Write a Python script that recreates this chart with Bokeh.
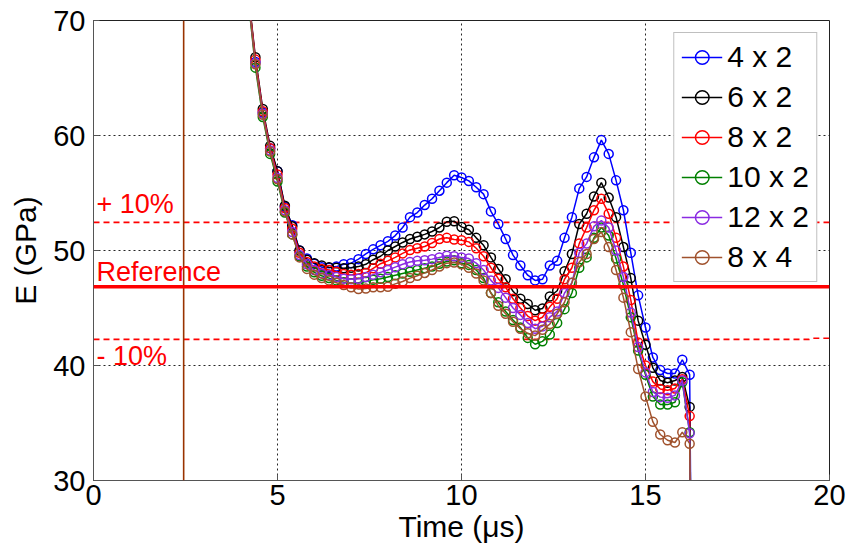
from bokeh.plotting import figure
from bokeh.models import Legend, LegendItem, Label, Span, FixedTicker
from bokeh.embed import file_html
from bokeh.resources import INLINE

# ---------------- data ----------------
time_us = [4.2,
           4.4, 4.6, 4.8, 5.0, 5.2, 5.4, 5.6, 5.8, 6.0, 6.2,
           6.4, 6.6, 6.8, 7.0, 7.2, 7.4, 7.6, 7.8, 8.0, 8.2,
           8.4, 8.6, 8.8, 9.0, 9.2, 9.4, 9.6, 9.8, 10.0, 10.2,
           10.4, 10.6, 10.8, 11.0, 11.2, 11.4, 11.6, 11.8, 12.0, 12.2,
           12.4, 12.6, 12.8, 13.0, 13.2, 13.4, 13.6, 13.8, 14.0, 14.2,
           14.4, 14.6, 14.8, 15.0, 15.2, 15.4, 15.6, 15.8, 16.0, 16.2,
           16.25]

E_4x2 = [72.5,
         66.4, 62.0, 58.9, 56.9, 53.8, 52.2, 50.0, 49.3, 48.85, 48.55,
         48.5, 48.6, 48.8, 48.9, 49.25, 49.7, 50.1, 50.45, 50.8, 51.3,
         52.0, 52.9, 53.3, 53.95, 54.5, 55.2, 55.9, 56.55, 56.35, 56.05,
         55.5, 54.9, 53.4, 52.3, 51.0, 49.6, 48.7, 47.85, 47.4, 47.5,
         48.7, 49.1, 51.1, 52.9, 55.4, 56.4, 58.1, 59.6, 58.4, 56.1,
         53.5, 49.8, 46.1, 43.3, 40.7, 39.6, 39.3, 39.3, 40.5, 39.2,
         20.0]

E_6x2 = [72.5,
         66.8, 62.3, 59.1, 56.9, 53.9, 52.1, 50.0, 49.2, 48.9, 48.7,
         48.55, 48.5, 48.45, 48.5, 48.6, 48.8, 49.2, 49.5, 50.0, 50.35,
         50.7, 51.0, 51.2, 51.4, 51.65, 52.0, 52.5, 52.55, 52.05, 51.8,
         51.1, 50.45, 49.4, 48.4, 47.5, 46.45, 45.8, 45.35, 44.8, 44.95,
         46.0, 46.5, 48.2, 49.7, 52.3, 53.2, 54.7, 55.9, 54.6, 52.9,
         50.3, 47.6, 43.9, 41.8, 39.8, 38.7, 38.5, 38.7, 39.0, 36.4,
         20.0]

E_8x2 = [72.5,
         66.6, 62.1, 58.9, 56.6, 53.7, 51.9, 49.8, 49.0, 48.6, 48.4,
         48.3, 48.15, 47.95, 47.9, 47.95, 48.05, 48.45, 48.85, 49.1, 49.4,
         49.75, 50.05, 50.2, 50.35, 50.65, 51.0, 51.1, 50.95, 50.9, 50.75,
         50.2, 49.5, 48.5, 47.55, 46.8, 45.8, 45.0, 44.3, 43.9, 44.2,
         45.1, 45.8, 47.5, 48.5, 50.6, 52.0, 53.5, 54.5, 53.2, 51.1,
         48.6, 45.7, 42.0, 40.0, 38.6, 37.95, 37.85, 38.0, 38.8, 35.6,
         20.0]

E_10x2 = [72.0,
          65.9, 61.6, 58.4, 56.0, 53.3, 51.4, 49.5, 48.6, 48.1, 47.8,
          47.6, 47.4, 47.25, 47.15, 47.2, 47.3, 47.45, 47.55, 47.7, 47.85,
          48.0, 48.15, 48.3, 48.45, 48.6, 48.85, 49.05, 49.15, 48.9, 48.75,
          48.3, 47.6, 46.3, 45.5, 44.7, 43.95, 43.3, 42.4, 41.85, 42.1,
          42.7, 43.7, 44.9, 46.3, 48.5, 49.4, 51.1, 52.0, 51.3, 49.3,
          47.0, 44.2, 41.3, 39.2, 37.3, 36.6, 36.6, 36.8, 38.55, 34.2,
          20.0]

E_12x2 = [72.2,
          66.3, 61.9, 58.7, 56.3, 53.5, 51.6, 49.6, 48.8, 48.3, 48.0,
          47.85, 47.7, 47.55, 47.5, 47.55, 47.7, 47.9, 48.1, 48.3, 48.55,
          48.8, 49.0, 49.1, 49.15, 49.25, 49.4, 49.55, 49.5, 49.4, 49.3,
          48.9, 48.3, 47.4, 46.75, 45.9, 45.0, 44.4, 43.7, 43.2, 43.4,
          44.2, 44.7, 46.3, 47.2, 49.8, 50.6, 52.1, 52.6, 52.0, 50.0,
          47.7, 44.6, 41.6, 39.4, 37.7, 37.25, 37.2, 37.4, 38.7, 34.1,
          20.0]

E_8x4 = [72.2,
         66.2, 61.8, 58.6, 56.2, 53.4, 51.4, 49.4, 48.4, 47.9, 47.6,
         47.4, 47.2, 47.0, 46.8, 46.65, 46.7, 46.8, 46.8, 46.85, 47.1,
         47.3, 47.6, 47.8, 48.05, 48.3, 48.6, 48.9, 48.95, 48.8, 48.5,
         48.0, 47.4, 46.3, 45.2, 44.5, 43.8, 43.2, 42.8, 42.6, 43.1,
         43.6, 44.5, 45.5, 47.2, 49.0, 49.7, 51.0, 51.6, 50.3, 48.3,
         45.9, 42.9, 39.7, 37.3, 35.1, 34.0, 33.5, 33.3, 34.2, 33.2,
         20.0]

series_labels = ["4 x 2", "6 x 2", "8 x 2", "10 x 2", "12 x 2", "8 x 4"]
series_values = [E_4x2, E_6x2, E_8x2, E_10x2, E_12x2, E_8x4]
series_colors = ["#0000FF", "#000000", "#FF0000", "#008000", "#8A2BE2", "#A0522D"]

reference_E = 46.85
upper_t = [0, 20]
upper_E = [52.45, 52.45]
lower_t = [0, 19.45, 19.55, 20]
lower_E = [42.27, 42.27, 42.37, 42.37]
marker_time = 2.45

annotation_texts = ["+ 10%", "Reference", "- 10%"]
annotation_E = [54.05, 48.15, 40.85]

x_ticks = [0, 5, 10, 15, 20]
y_ticks = [30, 40, 50, 60, 70]

FONT = "Liberation Sans"

# ---------------- figure ----------------
p = figure(width=851, height=559, x_range=(0, 20), y_range=(30, 70),
           output_backend="svg", toolbar_location=None,
           min_border_left=93, min_border_right=22,
           min_border_top=20, min_border_bottom=79)
p.background_fill_color = "white"
p.border_fill_color = "white"
p.outline_line_color = "#222222"
p.outline_line_width = 1

for ax in (p.xaxis[0], p.yaxis[0]):
    ax.major_label_text_font = FONT
    ax.major_label_text_font_size = "29px"
    ax.major_label_text_color = "black"
    ax.axis_label_text_font = FONT
    ax.axis_label_text_font_size = "30px"
    ax.axis_label_text_font_style = "normal"
    ax.axis_label_text_color = "black"
    ax.axis_line_color = "#555555"
    ax.major_tick_in = 6
    ax.major_tick_out = 0
    ax.minor_tick_line_color = None
    ax.major_tick_line_color = "#555555"

p.xaxis.ticker = FixedTicker(ticks=x_ticks)
p.yaxis.ticker = FixedTicker(ticks=y_ticks)
p.xaxis.axis_label = "Time (\u03bcs)"
p.yaxis.axis_label = "E (GPa)"
p.xaxis.major_label_standoff = 4
p.xaxis.axis_label_standoff = 2
p.yaxis.major_label_standoff = 8
p.yaxis.axis_label_standoff = 8

p.grid.grid_line_color = "#000000"
p.grid.grid_line_alpha = 0.85
p.grid.grid_line_dash = "2 3"
p.grid.grid_line_width = 1

# vertical marker line
p.add_layout(Span(location=marker_time, dimension="height",
                  line_color="#993300", line_width=1.6))

# reference lines
p.add_layout(Span(location=reference_E, dimension="width",
                  line_color="#FF0000", line_width=3.5))
p.line(upper_t, upper_E, line_color="#FF0000", line_width=1.6, line_dash="6 4")
p.line(lower_t, lower_E, line_color="#FF0000", line_width=1.6, line_dash="6 4")

for txt, yv in zip(annotation_texts, annotation_E):
    p.add_layout(Label(x=0.08, y=yv, text=txt, text_font=FONT,
                       text_font_size="27px", text_color="#FF0000",
                       text_baseline="alphabetic"))

items = []
for lab, vals, col in zip(series_labels, series_values, series_colors):
    ln = p.line(time_us, vals, line_color=col, line_width=1.5)
    sc = p.scatter(time_us, vals, marker="circle", size=9, fill_color=None,
                   line_color=col, line_width=1.5)
    items.append(LegendItem(label=lab, renderers=[ln, sc]))

legend = Legend(items=items, location="top_right", margin=12,
                padding=7, spacing=6, label_height=34, glyph_height=34,
                glyph_width=41, label_standoff=5,
                label_text_font=FONT, label_text_font_size="30px",
                label_text_color="black",
                border_line_color="#808080", border_line_width=1,
                background_fill_color="white", background_fill_alpha=1.0)
p.add_layout(legend)

open("out.html", "w").write(file_html(p, INLINE))
